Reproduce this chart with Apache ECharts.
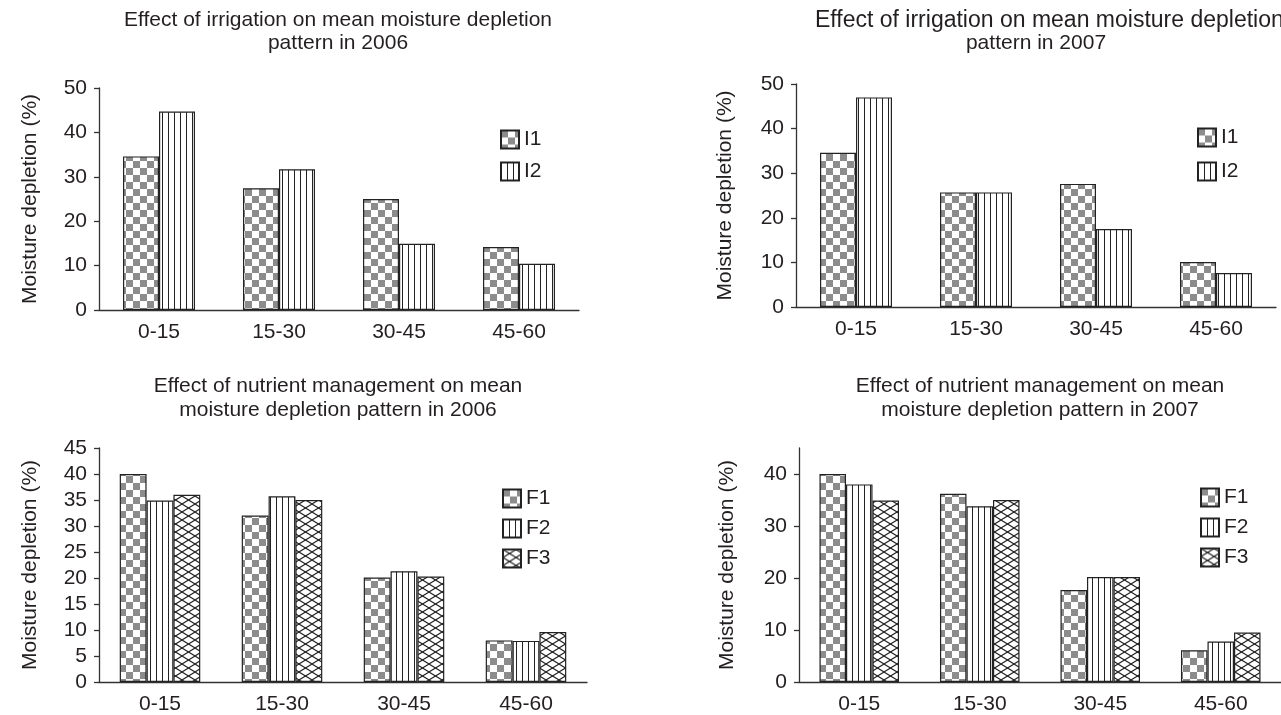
<!DOCTYPE html>
<html>
<head>
<meta charset="utf-8">
<script src="https://cdn.jsdelivr.net/npm/echarts@6/dist/echarts.min.js"></script>
<style>html,body{margin:0;padding:0;background:#fff}#c{width:1281px;height:715px}</style>
</head>
<body>
<div id="c"></div>
<script>
// ---- data ----
const depthCats = ['0-15', '15-30', '30-45', '45-60'];
const i1_2006 = [34.6, 27.4, 25.0, 14.2];
const i2_2006 = [44.7, 31.7, 14.9, 10.4];
const i1_2007 = [34.6, 25.7, 27.6, 10.1];
const i2_2007 = [47.0, 25.7, 17.5, 7.6];
const f1_2006 = [40.0, 32.0, 20.1, 8.0];
const f2_2006 = [34.9, 35.7, 21.3, 7.9];
const f3_2006 = [36.0, 35.0, 20.3, 9.6];
const f1_2007 = [40.0, 36.2, 17.7, 6.1];
const f2_2007 = [38.0, 33.8, 20.2, 7.8];
const f3_2007 = [34.9, 35.0, 20.2, 9.5];
const titleLines = [
  ['Effect of irrigation on mean moisture depletion', 'pattern in 2006'],
  ['Effect of irrigation on mean moisture depletion', 'pattern in 2007'],
  ['Effect of nutrient management on mean', 'moisture depletion pattern in 2006'],
  ['Effect of nutrient management on mean', 'moisture depletion pattern in 2007']
];
const yName = 'Moisture depletion (%)';

// ---- patterns ----
function mk(w, h, draw) {
  const c = document.createElement('canvas');
  c.width = w; c.height = h;
  const g = c.getContext('2d');
  g.fillStyle = '#fff'; g.fillRect(0, 0, w, h);
  draw(g);
  return { image: c, repeat: 'repeat' };
}
const checker = () => mk(14, 14, g => {
  g.fillStyle = '#8c8c8c';
  g.fillRect(0, 0, 7, 7); g.fillRect(7, 7, 7, 7);
});
const stripes = () => mk(6, 4, g => {
  g.fillStyle = '#222'; g.fillRect(0, 0, 1, 4);
});
const cross = () => mk(13, 8, g => {
  g.strokeStyle = '#222'; g.lineWidth = 1.1;
  for (const dx of [-13, 0, 13]) {
    g.beginPath(); g.moveTo(dx, 0); g.lineTo(dx + 13, 8); g.stroke();
    g.beginPath(); g.moveTo(dx, 8); g.lineTo(dx + 13, 0); g.stroke();
  }
});

const font = 'Liberation Sans, Arial, sans-serif';
const txt = '#231f20';
const fs = 21;

const grids = [
  { left: 99, top: 88, width: 480, height: 222 },
  { left: 796, top: 84, width: 480, height: 223 },
  { left: 99, top: 448, width: 488, height: 235 },
  { left: 799, top: 448, width: 488, height: 235 }
];
const yCfg = [
  { max: 50, interval: 10, gap: 58 },
  { max: 50, interval: 10, gap: 60 },
  { max: 45, interval: 5, gap: 58 },
  { max: 45, interval: 10, gap: 61, custom: [0, 10, 20, 30, 40] }
];
// per title line: [x, y, align, fontSize]
const titleLayout = [
  [[338, 10, 'center', fs], [338, 33, 'center', fs]],
  [[815, 9, 'left', 23], [1036, 33, 'center', fs]],
  [[338, 376, 'center', fs], [338, 400, 'center', fs]],
  [[1040, 376, 'center', fs], [1040, 400, 'center', fs]]
];
const legendPos = [
  { left: 495, top: 124, gap: 11, data: ['I1', 'I2'] },
  { left: 1192, top: 122, gap: 13, data: ['I1', 'I2'] },
  { left: 497, top: 483, gap: 9, data: ['F1', 'F2', 'F3'] },
  { left: 1195, top: 482, gap: 9, data: ['F1', 'F2', 'F3'] }
];

const axisLine = { lineStyle: { color: '#333', width: 1.3 } };

const titleArr = [];
titleLines.forEach((lines, i) => lines.forEach((t, j) => {
  const L = titleLayout[i][j];
  titleArr.push({
    text: t, left: L[0], top: L[1], textAlign: L[2], padding: 0,
    textStyle: { fontFamily: font, fontSize: L[3], fontWeight: 'normal', color: txt }
  });
}));

const option = {
  backgroundColor: '#fff',
  animation: false,
  textStyle: { fontFamily: font },
  title: titleArr,
  grid: grids,
  legend: legendPos.map(l => ({
    orient: 'vertical', left: l.left, top: l.top, itemGap: l.gap,
    itemWidth: 18, itemHeight: 18, itemTextGap: 9, selectedMode: false,
    data: l.data.map(n => ({ name: n, icon: 'rect' })),
    textStyle: { fontFamily: font, fontSize: fs, color: txt }
  })),
  xAxis: grids.map((g, i) => ({
    type: 'category', gridIndex: i, data: depthCats,
    axisLine: axisLine,
    axisTick: { length: 6, lineStyle: { color: '#333', width: 1.3 } },
    axisLabel: { fontFamily: font, fontSize: fs, color: txt, margin: 12 }
  })),
  yAxis: yCfg.map((c, i) => {
    const a = {
      type: 'value', gridIndex: i, min: 0, max: c.max, interval: c.interval,
      name: yName, nameLocation: 'middle', nameGap: c.gap,
      nameTextStyle: { fontFamily: font, fontSize: fs, color: txt },
      axisLine: Object.assign({ show: true }, axisLine),
      axisTick: { show: true, length: 5, lineStyle: { color: '#333', width: 1.3 } },
      splitLine: { show: false },
      axisLabel: { fontFamily: font, fontSize: fs, color: txt, margin: 12 }
    };
    if (c.custom) {
      a.axisTick.customValues = c.custom;
      a.axisLabel.customValues = c.custom;
    }
    return a;
  }),
  series: []
};

function bar(name, data, idx, pat, gap) {
  return {
    type: 'bar', name: name, data: data, xAxisIndex: idx, yAxisIndex: idx,
    barGap: '0%', barCategoryGap: gap,
    itemStyle: { color: pat(), borderColor: '#222', borderWidth: 1.2 }
  };
}
option.series.push(
  bar('I1', i1_2006, 0, checker, '40%'),
  bar('I2', i2_2006, 0, stripes, '40%'),
  bar('I1', i1_2007, 1, checker, '40%'),
  bar('I2', i2_2007, 1, stripes, '40%'),
  bar('F1', f1_2006, 2, checker, '34%'),
  bar('F2', f2_2006, 2, stripes, '34%'),
  bar('F3', f3_2006, 2, cross, '34%'),
  bar('F1', f1_2007, 3, checker, '34%'),
  bar('F2', f2_2007, 3, stripes, '34%'),
  bar('F3', f3_2007, 3, cross, '34%')
);

const chart = echarts.init(document.getElementById('c'), null, { renderer: 'canvas' });
chart.setOption(option);
</script>
</body>
</html>
